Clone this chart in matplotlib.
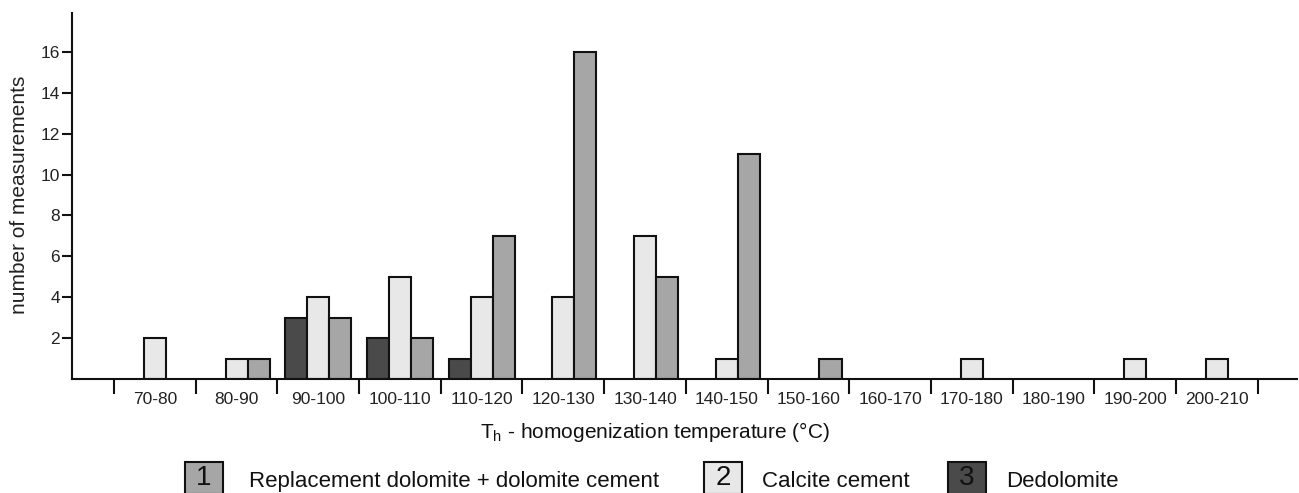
import matplotlib
matplotlib.use('Agg')
import matplotlib.pyplot as plt
from matplotlib.patches import Rectangle
import numpy as np

categories = ['70-80', '80-90', '90-100', '100-110', '110-120', '120-130', '130-140',
              '140-150', '150-160', '160-170', '170-180', '180-190', '190-200', '200-210']
dolomite = [0, 1, 3, 2, 7, 16, 5, 11, 1, 0, 0, 0, 0, 0]
calcite = [2, 1, 4, 5, 4, 4, 7, 1, 0, 0, 1, 0, 1, 1]
dedolomite = [0, 0, 3, 2, 1, 0, 0, 0, 0, 0, 0, 0, 0, 0]
series_names = ['Replacement dolomite + dolomite cement', 'Calcite cement', 'Dedolomite']
y_ticks = [2, 4, 6, 8, 10, 12, 14, 16]

c_dol = '#a6a6a6'
c_cal = '#e8e8e8'
c_ded = '#4a4a4a'
edge = '#111111'

plt.rcParams['font.family'] = ['Liberation Sans', 'DejaVu Sans']

W, H = 1299, 493
fig = plt.figure(figsize=(W / 100, H / 100), dpi=100)
ax = fig.add_axes([72 / W, 1 - 379 / H, (1297 - 72) / W, (379 - 13) / H])

x = np.arange(len(categories))
bw = 0.27

def draw(vals, offset, color):
    xs = [xi + offset for xi, v in zip(x, vals) if v > 0]
    hs = [v for v in vals if v > 0]
    ax.bar(xs, hs, bw, color=color, edgecolor=edge, linewidth=1.5, zorder=3)

draw(dedolomite, -bw, c_ded)
draw(calcite, 0, c_cal)
draw(dolomite, bw, c_dol)

ax.set_xlim(-1.014, 13.98)
ax.set_ylim(0, 17.9)

for s in ['top', 'right']:
    ax.spines[s].set_visible(False)
for s in ['left', 'bottom']:
    ax.spines[s].set_linewidth(1.5)
    ax.spines[s].set_color(edge)
    ax.spines[s].set_zorder(4)

ax.set_xticks(np.arange(-0.5, len(categories), 1.0))
ax.set_xticklabels([])
ax.tick_params(axis='x', which='major', direction='out', length=10.8, width=1.5, color=edge)
ax.set_xticks(x, categories, minor=True)
ax.tick_params(axis='x', which='minor', length=0, pad=9.5, labelsize=12.5, labelcolor='#222222')

ax.set_yticks(y_ticks)
ax.set_yticklabels([str(t) for t in y_ticks])
ax.tick_params(axis='y', direction='out', length=7.2, width=1.5, color=edge, pad=1.5,
               labelsize=12.5, labelcolor='#222222')

fig.text(20 / W, 1 - 195 / H, 'number of measurements', rotation=90, ha='center', va='center',
         fontsize=15, color='#222222')

fig.text(655 / W, 1 - 438 / H, r'T$_\mathregular{h}$ - homogenization temperature (°C)',
         ha='center', va='baseline', fontsize=15, color='#111111')

legend_items = [('1', series_names[0], c_dol, 185, 249),
                ('2', series_names[1], c_cal, 704, 762),
                ('3', series_names[2], c_ded, 948, 1006)]
for num, label, col, px, tx in legend_items:
    bx0, bx1, by0, by1 = px, px + 38, 462, 494
    r = Rectangle((bx0 / W, 1 - by1 / H), (bx1 - bx0) / W, (by1 - by0) / H,
                  transform=fig.transFigure, facecolor=col, edgecolor=edge, linewidth=1.5)
    fig.add_artist(r)
    fig.text((bx0 + bx1) / 2 / W, 1 - 478 / H, num, ha='center', va='center',
             fontsize=20, color='#111111')
    fig.text(tx / W, 1 - 487 / H, label, ha='left', va='baseline',
             fontsize=16, color='#111111')

fig.savefig('out.png', dpi=100)
